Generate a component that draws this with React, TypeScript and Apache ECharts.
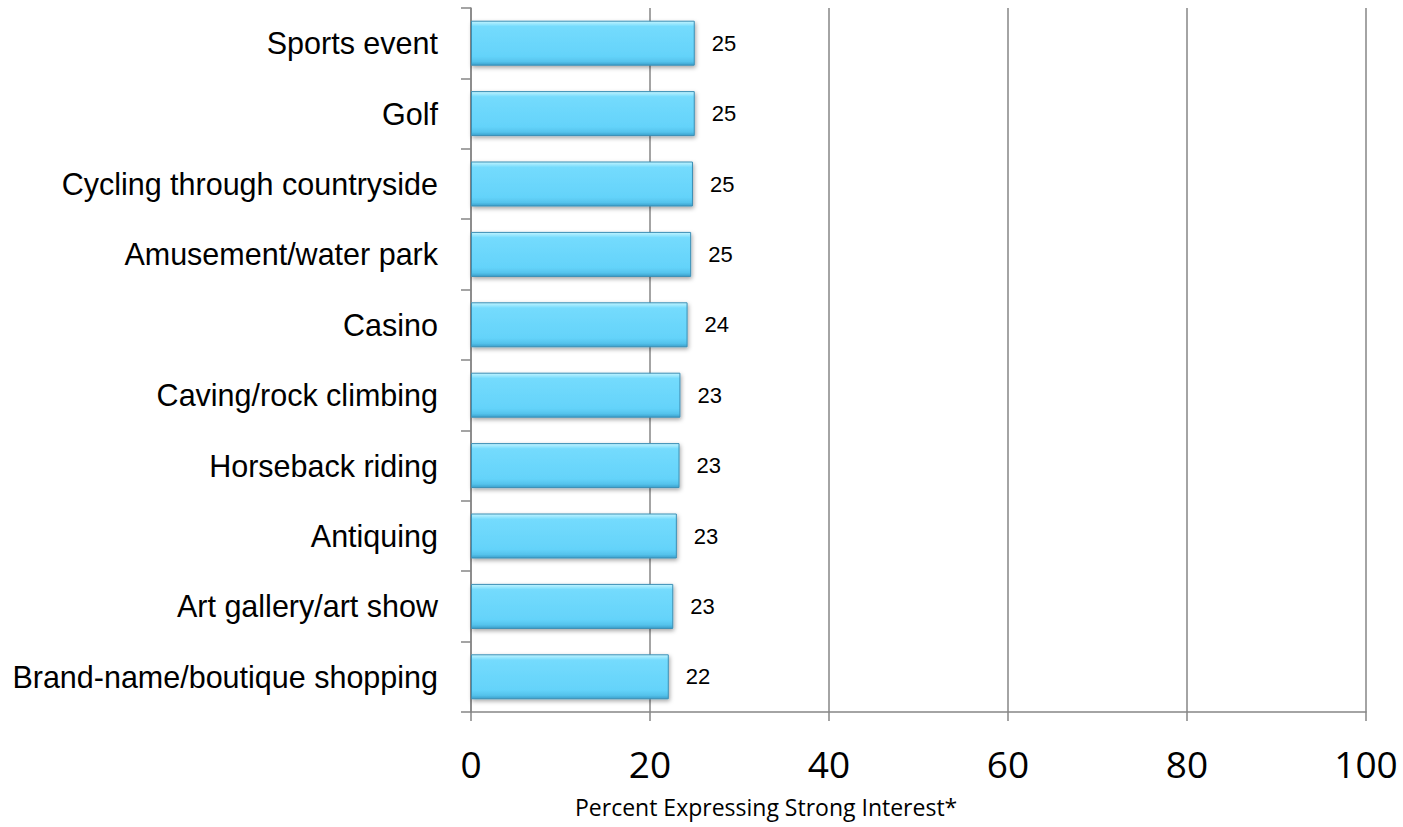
import React, { useEffect, useRef } from "react";
import * as echarts from "echarts";

const categories = [
  "Brand-name/boutique shopping",
  "Art gallery/art show",
  "Antiquing",
  "Horseback riding",
  "Caving/rock climbing",
  "Casino",
  "Amusement/water park",
  "Cycling through countryside",
  "Golf",
  "Sports event",
];
const values = [22.1, 22.6, 23.0, 23.3, 23.4, 24.2, 24.6, 24.8, 25.0, 25.0];
const xTicks = [0, 20, 40, 60, 80, 100];
const axisTitle = "Percent Expressing Strong Interest*";

export default function App() {
  const ref = useRef<HTMLDivElement>(null);
  useEffect(() => {
    if (!ref.current) return;
    const chart = echarts.init(ref.current, null, { renderer: "svg" });
    chart.setOption({
      animation: false,
      backgroundColor: "#ffffff",
      grid: {
        left: 471,
        right: 37,
        top: 8,
        bottom: 115,
        containLabel: false,
        outerBoundsMode: "none",
      },
      xAxis: {
        type: "value",
        min: xTicks[0],
        max: xTicks[xTicks.length - 1],
        interval: 20,
        axisLine: { show: true, lineStyle: { color: "#868686", width: 1.5 } },
        axisTick: { show: true, length: 9, lineStyle: { color: "#868686", width: 1.5 } },
        splitLine: { show: true, lineStyle: { color: "#868686", width: 1.5 } },
        axisLabel: {
          margin: 33,
          fontFamily: "Open Sans",
          fontSize: 37,
          color: "#000",
        },
      },
      yAxis: {
        type: "category",
        data: categories,
        axisLine: { show: true, lineStyle: { color: "#868686", width: 1.5 } },
        axisTick: { show: true, length: 10, lineStyle: { color: "#868686", width: 1.5 } },
        axisLabel: {
          margin: 33,
          fontFamily: "'Liberation Sans', Arial, sans-serif",
          fontSize: 30.5,
          color: "#000",
        },
      },
      series: [
        {
          type: "bar",
          data: values,
          barWidth: 45,
          itemStyle: {
            color: new echarts.graphic.LinearGradient(0, 0, 0, 1, [
              { offset: 0, color: "#c2f4ff" },
              { offset: 0.12, color: "#74dbfd" },
              { offset: 0.8, color: "#64d3fa" },
              { offset: 0.92, color: "#55c3ec" },
              { offset: 1, color: "#3a9fcb" },
            ]),
            borderColor: "#3b8fb5",
            borderWidth: 1,
            shadowColor: "rgba(0,0,0,0.35)",
            shadowBlur: 4,
            shadowOffsetX: 1,
            shadowOffsetY: 2,
          },
          label: {
            show: true,
            position: "right",
            distance: 17,
            formatter: (p: any) => String(Math.round(p.value)),
            fontFamily: "'Liberation Sans', Arial, sans-serif",
            fontSize: 22,
            color: "#000",
          },
        },
      ],
      graphic: [
        {
          type: "text",
          left: 575,
          top: 795,
          style: {
            text: axisTitle,
            fontFamily: "Open Sans",
            fontSize: 23,
            fill: "#000",
          },
        },
      ],
    });
    return () => chart.dispose();
  }, []);
  return (
    <div
      ref={ref}
      style={{ position: "fixed", left: 0, top: 0, width: 1403, height: 827 }}
    />
  );
}
